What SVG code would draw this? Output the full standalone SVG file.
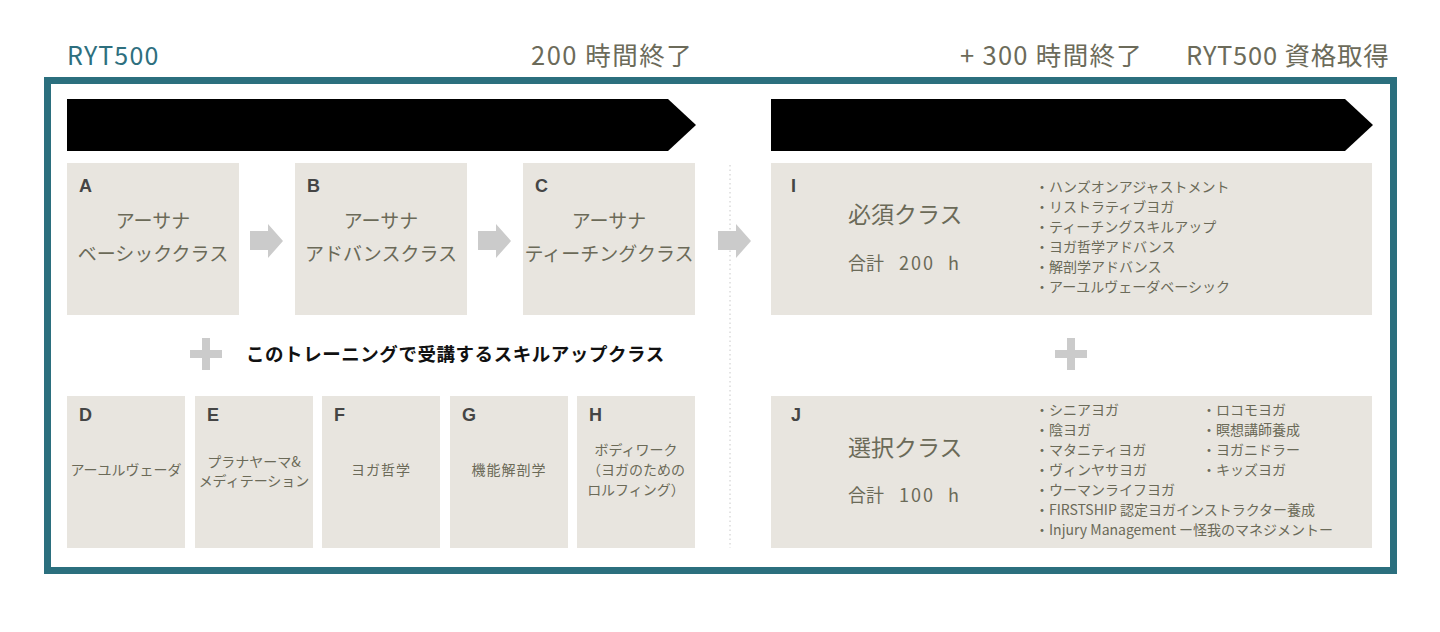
<svg xmlns="http://www.w3.org/2000/svg" width="1440" height="632" viewBox="0 0 1440 632">
<defs>
<style>
.hdr{font-family:"Noto Sans CJK JP","Noto Sans",sans-serif;font-size:25.5px;fill:#6c6b5a;}
.box{fill:#e8e5df;}
.let{font-family:"Liberation Sans","Noto Sans",sans-serif;font-size:18px;font-weight:bold;fill:#454545;}
.t19{font-family:"Noto Sans CJK JP",sans-serif;font-size:19px;fill:#6b6a58;text-anchor:middle;}
.t14{font-family:"Noto Sans CJK JP",sans-serif;font-size:14px;fill:#6b6a58;text-anchor:middle;}
.li{font-family:"Noto Sans CJK JP",sans-serif;font-size:14px;fill:#6b6a58;}
.big{font-family:"Noto Sans CJK JP",sans-serif;font-size:23px;fill:#6b6a58;}
.sum{font-family:"Noto Sans CJK JP",sans-serif;font-size:18px;fill:#6b6a58;}
.garrow{fill:#cbcbcb;}
.plus{fill:#cbcbcb;}
</style>
</defs>
<rect x="0" y="0" width="1440" height="632" fill="#ffffff"/>
<g id="headers">
<text x="67" y="65" font-family="Noto Sans CJK JP, Noto Sans, sans-serif" font-size="25" fill="#2e6f7e" letter-spacing="1.2">RYT500</text>
<text x="531" y="65" class="hdr" letter-spacing="1.5">200 時間終了</text>
<text x="960" y="65" class="hdr" letter-spacing="1.3">+ 300 時間終了</text>
<text x="1186" y="65" class="hdr" letter-spacing="0.8">RYT500 資格取得</text>
</g>
<rect id="frame" x="47.5" y="80.5" width="1346" height="490" fill="none" stroke="#2b6f7e" stroke-width="7"/>
<g id="phase-bars">
<polygon points="67,99 668,99 696,125 668,151 67,151" fill="#000"/>
<polygon points="771,99 1345,99 1373,125 1345,151 771,151" fill="#000"/>
</g>
<line id="divider" x1="730" y1="165" x2="730" y2="548" stroke="#c8c8c8" stroke-width="1" stroke-dasharray="1.5 3"/>
<g id="connectors">
<polygon class="garrow" points="250,231 268,231 268,224 283,241 268,258 268,250 250,250"/>
<polygon class="garrow" points="478,231 496,231 496,224 511,241 496,258 496,250 478,250"/>
<polygon class="garrow" points="718,231 736,231 736,224 751,241 736,258 736,250 718,250"/>
</g>
<g id="node-A">
<rect class="box" x="67" y="163" width="172" height="152"/>
<text class="let" x="79" y="192">A</text>
<text class="t19" x="153" y="228">アーサナ</text>
<text class="t19" x="153" y="261">ベーシッククラス</text>
</g>
<g id="node-B">
<rect class="box" x="295" y="163" width="172" height="152"/>
<text class="let" x="307" y="192">B</text>
<text class="t19" x="381" y="228">アーサナ</text>
<text class="t19" x="381" y="261">アドバンスクラス</text>
</g>
<g id="node-C">
<rect class="box" x="523" y="163" width="172" height="152"/>
<text class="let" x="535" y="192">C</text>
<text class="t19" x="609" y="228">アーサナ</text>
<text class="t19" x="609" y="261">ティーチングクラス</text>
</g>
<g id="plus-left">
<rect class="plus" x="190" y="350" width="32" height="8"/>
<rect class="plus" x="202" y="338" width="8" height="32"/>
<text x="246" y="361" font-family="Noto Sans CJK JP, sans-serif" font-size="18.5" font-weight="bold" fill="#111" letter-spacing="0.55">このトレーニングで受講するスキルアップクラス</text>
</g>
<g id="plus-right">
<rect class="plus" x="1055" y="350" width="32" height="8"/>
<rect class="plus" x="1067" y="338" width="8" height="32"/>
</g>
<g id="node-D">
<rect class="box" x="67" y="396" width="118" height="152"/>
<text class="let" x="79" y="421">D</text>
<text class="t14" x="126" y="475">アーユルヴェーダ</text>
</g>
<g id="node-E">
<rect class="box" x="195" y="396" width="118" height="152"/>
<text class="let" x="207" y="421">E</text>
<text class="t14" x="254" y="467">プラナヤーマ&amp;</text>
<text class="t14" x="254" y="486">メディテーション</text>
</g>
<g id="node-F">
<rect class="box" x="322" y="396" width="118" height="152"/>
<text class="let" x="334" y="421">F</text>
<text class="t14" x="381" y="475" letter-spacing="1">ヨガ哲学</text>
</g>
<g id="node-G">
<rect class="box" x="450" y="396" width="118" height="152"/>
<text class="let" x="462" y="421">G</text>
<text class="t14" x="509" y="475" letter-spacing="1">機能解剖学</text>
</g>
<g id="node-H">
<rect class="box" x="577" y="396" width="118" height="152"/>
<text class="let" x="589" y="421">H</text>
<text class="t14" x="636" y="455">ボディワーク</text>
<text class="t14" x="636" y="475">（ヨガのための</text>
<text class="t14" x="636" y="495">ロルフィング）</text>
</g>
<g id="node-I">
<rect class="box" x="771" y="163" width="601" height="152"/>
<text class="let" x="791" y="192">I</text>
<text class="big" x="848" y="223">必須クラス</text>
<text class="sum" x="848" y="270">合計<tspan x="899" letter-spacing="2">200</tspan><tspan x="948">h</tspan></text>
<text class="li" x="1035" y="192">・ハンズオンアジャストメント</text>
<text class="li" x="1035" y="212">・リストラティブヨガ</text>
<text class="li" x="1035" y="232">・ティーチングスキルアップ</text>
<text class="li" x="1035" y="252">・ヨガ哲学アドバンス</text>
<text class="li" x="1035" y="272">・解剖学アドバンス</text>
<text class="li" x="1035" y="292">・アーユルヴェーダベーシック</text>
</g>
<g id="node-J">
<rect class="box" x="771" y="396" width="601" height="152"/>
<text class="let" x="791" y="421">J</text>
<text class="big" x="848" y="456">選択クラス</text>
<text class="sum" x="848" y="502">合計<tspan x="899" letter-spacing="2">100</tspan><tspan x="948">h</tspan></text>
<text class="li" x="1035" y="415">・シニアヨガ</text>
<text class="li" x="1035" y="435">・陰ヨガ</text>
<text class="li" x="1035" y="455">・マタニティヨガ</text>
<text class="li" x="1035" y="475">・ヴィンヤサヨガ</text>
<text class="li" x="1035" y="495">・ウーマンライフヨガ</text>
<text class="li" x="1035" y="515">・FIRSTSHIP 認定ヨガインストラクター養成</text>
<text class="li" x="1035" y="535">・Injury Management ー怪我のマネジメントー</text>
<text class="li" x="1202" y="415">・ロコモヨガ</text>
<text class="li" x="1202" y="435">・瞑想講師養成</text>
<text class="li" x="1202" y="455">・ヨガニドラー</text>
<text class="li" x="1202" y="475">・キッズヨガ</text>
</g>
</svg>
